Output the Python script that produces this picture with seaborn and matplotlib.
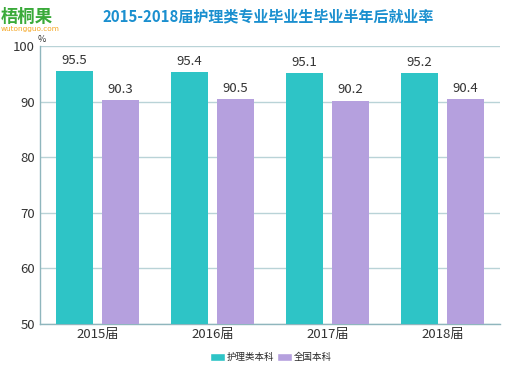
import numpy as np
import pandas as pd
import matplotlib
matplotlib.use("Agg")
import matplotlib.pyplot as plt
import seaborn as sns
from matplotlib.patches import Patch

# dados
years = ["2015届", "2016届", "2017届", "2018届"]
series_names = ["护理类本科", "全国本科"]
nursing = [95.5, 95.4, 95.1, 95.2]
national = [90.3, 90.5, 90.2, 90.4]
colors = ["#2ec4c6", "#b5a0de"]

df = pd.DataFrame({
    "year": years * 2,
    "group": [series_names[0]] * 4 + [series_names[1]] * 4,
    "value": nursing + national,
})

sns.set_style("white")
plt.rcParams["font.family"] = ["Noto Sans CJK SC", "DejaVu Sans"]

fig = plt.figure(figsize=(5.26, 3.66), dpi=100)
ax = fig.add_axes([0.076, 0.115, 0.875, 0.759])

sns.barplot(data=df, x="year", y="value", hue="group", palette=colors,
            saturation=1, width=0.8, gap=0.2, linewidth=0, ax=ax,
            legend=False, zorder=3)

ax.set_ylim(50, 100)
ax.set_xlim(-0.5, 3.5)
ax.set_yticks(range(50, 101, 10))
ax.yaxis.grid(True, color="#b9d3d7", linewidth=1.0, zorder=0)
ax.set_axisbelow(True)
ax.set_xlabel("")
ax.set_ylabel("")
for s in ["top", "right"]:
    ax.spines[s].set_visible(False)
for s in ["left", "bottom"]:
    ax.spines[s].set_color("#8fb6bd")
    ax.spines[s].set_linewidth(1.0)
ax.tick_params(axis="both", labelsize=9.5, colors="#333333", length=0)
ax.tick_params(axis="x", pad=3)

for c in ax.containers:
    ax.bar_label(c, fmt="%.1f", fontsize=9.5, color="#333333", padding=3)

# titulo e logo
fig.text(0.51, 0.955, "2015-2018届护理类专业毕业生毕业半年后就业率",
         ha="center", va="center", fontsize=10.8, fontweight="bold", color="#1a8fcf")
fig.text(0.002, 0.955, "梧桐果", ha="left", va="center", fontsize=12.5,
         fontweight="bold", color="#3aaa3a")
fig.text(0.002, 0.92, "wutongguo.com", ha="left", va="center", fontsize=5.3,
         color="#f5a623", family="DejaVu Sans")
fig.text(0.072, 0.893, "%", ha="left", va="center", fontsize=6.5, color="#333333")

# legenda
handles = [Patch(facecolor=colors[i], label=series_names[i]) for i in range(2)]
fig.legend(handles=handles, loc="center", bbox_to_anchor=(0.515, 0.024), ncol=2,
           frameon=False, fontsize=6.8, handlelength=1.6, handleheight=0.9,
           columnspacing=0.3, handletextpad=0.15, borderpad=0)

fig.savefig("out.png", dpi=100)
